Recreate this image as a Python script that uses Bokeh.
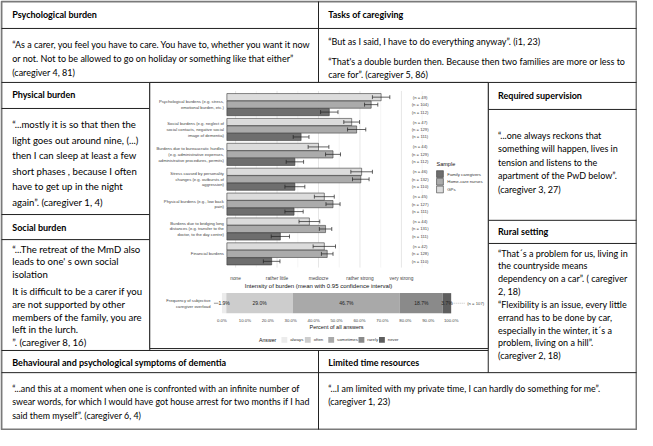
import numpy as np
from bokeh.plotting import figure
from bokeh.models import Range1d
from bokeh.core.properties import value
from bokeh.embed import file_html
from bokeh.resources import INLINE

# ---------------- data ----------------
burden_categories = [
    "Psychological burdens (e.g. stress,\nemotional burden, etc.)",
    "Social burdens (e.g. neglect of\nsocial contacts, negative social\nimage of dementia)",
    "Burdens due to bureaucratic hurdles\n(e.g. administrative expenses,\nadministrative procedures, permits)",
    "Stress caused by personality\nchanges (e.g. outbursts of\naggression)",
    "Physical burdens (e.g., low back\npain)",
    "Burdens due to bridging long\ndistances (e.g. transfer to the\ndoctor, to the day centre)",
    "Financial burdens",
]
samples = ["Family caregivers", "Home-care nurses", "GPs"]
# bars from top to bottom inside each group: GPs (light), Home-care nurses (mid), Family caregivers (dark)
mean_gps = [4.51, 3.80, 3.00, 4.04, 3.14, 2.78, 3.14]
mean_hcn = [4.27, 3.92, 3.35, 4.02, 3.35, 3.17, 3.21]
mean_fam = [3.26, 2.58, 2.43, 2.43, 2.41, 2.08, 1.87]
ci_gps = [0.21, 0.19, 0.25, 0.26, 0.24, 0.25, 0.27]
ci_hcn = [0.16, 0.22, 0.18, 0.20, 0.17, 0.15, 0.14]
ci_fam = [0.21, 0.19, 0.21, 0.24, 0.22, 0.22, 0.20]
n_gps = [49, 47, 44, 46, 45, 44, 42]
n_hcn = [104, 129, 129, 132, 127, 131, 128]
n_fam = [112, 111, 112, 110, 111, 111, 110]
intensity_ticks = [1, 2, 3, 4, 5]
intensity_labels = ["none", "rather little", "mediocre", "rather strong", "very strong"]

answers = ["always", "often", "sometimes", "rarely", "never"]
answer_pct = [1.9, 29.0, 46.7, 18.7, 3.7]
answer_n = 107
pct_ticks = [0, 10, 20, 30, 40, 50, 60, 70, 80, 90, 100]

# ---------------- styles / layout ----------------
W, H = 653, 446
C_LIGHT, C_MID, C_DARK = "#dcdcdc", "#ababab", "#6e6e6e"
ANS_COLORS = ["#ececec", "#cdcdcd", "#a9a9a9", "#8a8a8a", "#5e5e5e"]
TXT = value("Lato")
CH = value("Liberation Sans")
BODY = "9px"
SIDE = "9.6px"

p = figure(width=637, height=430, x_range=Range1d(0, W), y_range=Range1d(H, 0),
           output_backend="svg", toolbar_location=None, min_border=0,
           x_axis_location=None, y_axis_location=None)
p.grid.visible = False
p.outline_line_color = None

# scales of the embedded chart (positions of the chart panel inside the page)
BX_NONE, BX_UNIT = 241.0, 42.5
CAT_Y0, CAT_STEP = 108.0, 25.8
PCT_X0, PCT_UNIT = 227.0, 2.35
p.extra_x_ranges = {
    "burden": Range1d(1 - BX_NONE / BX_UNIT, 1 + (W - BX_NONE) / BX_UNIT),
    "pct": Range1d(-PCT_X0 / PCT_UNIT, (W - PCT_X0) / PCT_UNIT),
}
p.extra_y_ranges = {"cat": Range1d((H - CAT_Y0) / CAT_STEP, -CAT_Y0 / CAT_STEP)}

# ---------------- table frame ----------------
p.quad(left=1, right=652, top=1, bottom=445, fill_color=None, line_color="#7a7a7a", line_width=2)
hx0 = [1, 1, 1, 1, 1, 500, 500, 500, 1, 1]
hx1 = [652, 652, 153, 153, 153, 652, 652, 652, 500, 652]
hy = [29, 85, 112, 222, 248, 113, 228, 252, 363, 386]
p.segment(x0=hx0, x1=hx1, y0=hy, y1=hy, line_color="#222222", line_width=1)
vx = [326, 326, 153, 500]
vy0 = [1, 363, 85, 85]
vy1 = [85, 445, 363, 386]
p.segment(x0=vx, x1=vx, y0=vy0, y1=vy1, line_color="#222222", line_width=1)


def block(lines, x, y0, dy, blank=7, bold=False, size=BODY):
    xs, ys, ts = [], [], []
    y = y0
    for ln in lines:
        if ln == "":
            y += blank
            continue
        xs.append(x); ys.append(y); ts.append(ln)
        y += dy
    p.text(x=xs, y=ys, text=ts, text_font=TXT, text_font_size=size,
           text_font_style="bold" if bold else "normal",
           text_baseline="middle", text_align="left", text_color="#000000")


block(["Psychological burden"], 12, 15, 14, bold=True)
block(["“As a carer, you feel you have to care. You have to, whether you want it now",
       "or not. Not to be allowed to go on holiday or something like that either”",
       "(caregiver 4, 81)"], 12, 46, 14.5)
block(["Tasks of caregiving"], 336, 15, 14, bold=True)
block(["“But as I said, I have to do everything anyway”. (i1, 23)", "",
       "“That's a double burden then. Because then two families are more or less to",
       "care for”. (caregiver 5, 86)"], 336, 43, 14, blank=6)
block(["Physical burden"], 12, 98, 14, bold=True)
block(["“...mostly it is so that then the",
       "light goes out around nine, (...)",
       "then I can sleep at least a few",
       "short phases , because I often",
       "have to get up in the night",
       "again”. (caregiver 1, 4)"], 12, 129, 16, size=SIDE)
block(["Social burden"], 12, 235, 14, bold=True)
block(["“...The retreat of the MmD also",
       "leads to one' s own social",
       "isolation", "",
       "It is difficult to be a carer if you",
       "are not supported by other",
       "members of the family, you are",
       "left in the lurch.",
       "”. (caregiver 8, 16)"], 12, 258, 13.1, blank=5, size=SIDE)
block(["Required supervision"], 510, 99, 14, bold=True)
block(["“...one always reckons that",
       "something will happen, lives in",
       "tension and listens to the",
       "apartment of the PwD below”.",
       "(caregiver 3, 27)"], 510, 140, 14)
block(["Rural setting"], 510, 240, 14, bold=True)
block(["“That´s a problem for us, living in",
       "the countryside means",
       "dependency on a car”. ( caregiver",
       "2, 18)",
       "“Flexibility is an issue, every little",
       "errand has to be done by car,",
       "especially in the winter, it´s a",
       "problem, living on a hill”.",
       "(caregiver 2, 18)"], 510, 262, 13.3)
block(["Behavioural and psychological symptoms of dementia"], 12, 375, 14, bold=True)
block(["“...and this at a moment when one is confronted with an infinite number of",
       "swear words, for which I would have got house arrest for two months if I had",
       "said them myself”. (caregiver 6, 4)"], 12, 402, 14, size="8.9px")
block(["Limited time resources"], 336, 375, 14, bold=True)
block(["“...I am limited with my private time,  I can hardly  do something for me”.",
       "(caregiver 1, 23)"], 336, 402, 14, size="8.9px")

# ---------------- embedded chart ----------------
p.quad(left=153, right=500, top=85, bottom=361, fill_color="white", line_color="#222222", line_width=1)

PANEL_X0 = 0.79
PANEL_Y0, PANEL_Y1 = -0.55, 6.55
major = [1, 2, 3, 4, 5]
minor = [1.5, 2.5, 3.5, 4.5, 5.5]
p.segment(x0=minor, x1=minor, y0=[PANEL_Y0] * 5, y1=[PANEL_Y1] * 5, line_color="#eeeeee", line_width=0.6,
          x_range_name="burden", y_range_name="cat")
p.segment(x0=major, x1=major, y0=[PANEL_Y0] * 5, y1=[PANEL_Y1] * 5, line_color="#e0e0e0", line_width=0.8,
          x_range_name="burden", y_range_name="cat")

idx = np.arange(len(burden_categories))
series = [  # (means, ci, n, color, offset within group)
    (mean_gps, ci_gps, n_gps, C_LIGHT, -0.3),
    (mean_hcn, ci_hcn, n_hcn, C_MID, 0.0),
    (mean_fam, ci_fam, n_fam, C_DARK, 0.3),
]
for means, ci, ns, col, off in series:
    yy = idx + off
    m = np.array(means); c = np.array(ci)
    p.hbar(y=yy, left=PANEL_X0, right=m, height=0.29, fill_color=col, line_color="#3a3a3a", line_width=0.6,
           x_range_name="burden", y_range_name="cat")
    p.segment(x0=m - c, x1=m + c, y0=yy, y1=yy, line_color="#222222", line_width=0.7,
              x_range_name="burden", y_range_name="cat")
    p.segment(x0=np.r_[m - c, m + c], x1=np.r_[m - c, m + c], y0=np.r_[yy, yy] - 0.08, y1=np.r_[yy, yy] + 0.08,
              line_color="#222222", line_width=0.7, x_range_name="burden", y_range_name="cat")
    p.text(x=[5.45] * len(ns), y=yy, text=[f"(n = {v})" for v in ns], text_font=CH, text_font_size="4.2px",
           text_align="center", text_baseline="middle", text_color="#444444",
           x_range_name="burden", y_range_name="cat")

p.text(x=[PANEL_X0] * len(idx), y=idx, text=burden_categories, x_offset=-3, text_font=CH,
       text_font_size="4.2px", text_align="right", text_baseline="middle", text_color="#444444",
       text_line_height=1.15, x_range_name="burden", y_range_name="cat")
p.text(x=intensity_ticks, y=[288] * 5, text=intensity_labels, text_font=CH, text_font_size="4.8px",
       text_align="center", text_baseline="middle", text_color="#444444", x_range_name="burden")
p.text(x=[3], y=[296], text=["Intensity of burden (mean with 0.95 confidence interval)"], text_font=CH,
       text_font_size="6px", text_align="center", text_baseline="middle", text_color="#111111",
       x_range_name="burden")

# sample legend
p.text(x=[447], y=[170], text=["Sample"], text_font=CH, text_font_size="5.5px", text_baseline="middle",
       text_color="#111111")
leg_y = [180, 188, 196]
p.quad(left=[447] * 3, right=[454] * 3, top=[v - 3.5 for v in leg_y], bottom=[v + 3.5 for v in leg_y],
       fill_color=[C_DARK, C_MID, C_LIGHT], line_color="#3a3a3a", line_width=0.6)
p.text(x=[458] * 3, y=leg_y, text=samples, text_font=CH, text_font_size="4.3px", text_baseline="middle",
       text_color="#333333")

# stacked bar of caregiver overload
pct = np.array(answer_pct)
ends = np.cumsum(pct)
starts = ends - pct
p.hbar(y=[314] * 5, left=starts, right=ends, height=21, fill_color=ANS_COLORS, line_color=None,
       x_range_name="pct")
p.text(x=(starts + ends) / 2, y=[314] * 5, text=[f"{v:.1f}%" for v in answer_pct], text_font=CH,
       text_font_size="5px", text_align="center", text_baseline="middle", text_color="#222222",
       x_range_name="pct")
p.text(x=[-5], y=[314], text=["Frequency of subjective\ncaregiver overload"], text_font=CH,
       text_font_size="4.2px", text_align="right", text_baseline="middle", text_color="#444444",
       text_line_height=1.15, x_range_name="pct")
p.segment(x0=[-3.5], x1=[-1.5], y0=[314], y1=[314], line_color="#555555", line_width=0.6, x_range_name="pct")
p.segment(x0=[ends[-1] + 0.5], x1=[ends[-1] + 6], y0=[314], y1=[314], line_color="#999999",
          line_width=0.6, line_dash="1 1", x_range_name="pct")
p.text(x=[ends[-1] + 7], y=[314], text=[f"(n = {answer_n})"], text_font=CH, text_font_size="4.2px",
       text_baseline="middle", text_color="#444444", x_range_name="pct")
p.text(x=pct_ticks, y=[332] * len(pct_ticks), text=[f"{v:.1f}%" for v in pct_ticks], text_font=CH,
       text_font_size="4.3px", text_align="center", text_baseline="middle", text_color="#444444",
       x_range_name="pct")
p.text(x=[50], y=[339], text=["Percent of all answers"], text_font=CH, text_font_size="5.5px",
       text_align="center", text_baseline="middle", text_color="#111111", x_range_name="pct")

# answer legend
p.text(x=[265], y=[352], text=["Answer"], text_font=CH, text_font_size="5.2px", text_baseline="middle",
       text_color="#111111")
key_x = [288, 312, 336, 367, 388]
p.quad(left=key_x, right=[k + 6 for k in key_x], top=[349] * 5, bottom=[355] * 5, fill_color=ANS_COLORS,
       line_color=None)
p.text(x=[k + 9 for k in key_x], y=[352] * 5, text=answers, text_font=CH, text_font_size="4.3px",
       text_baseline="middle", text_color="#333333")

html = file_html(p, INLINE, title="plot")
with open("out.html", "w", encoding="utf-8") as f:
    f.write(html)
